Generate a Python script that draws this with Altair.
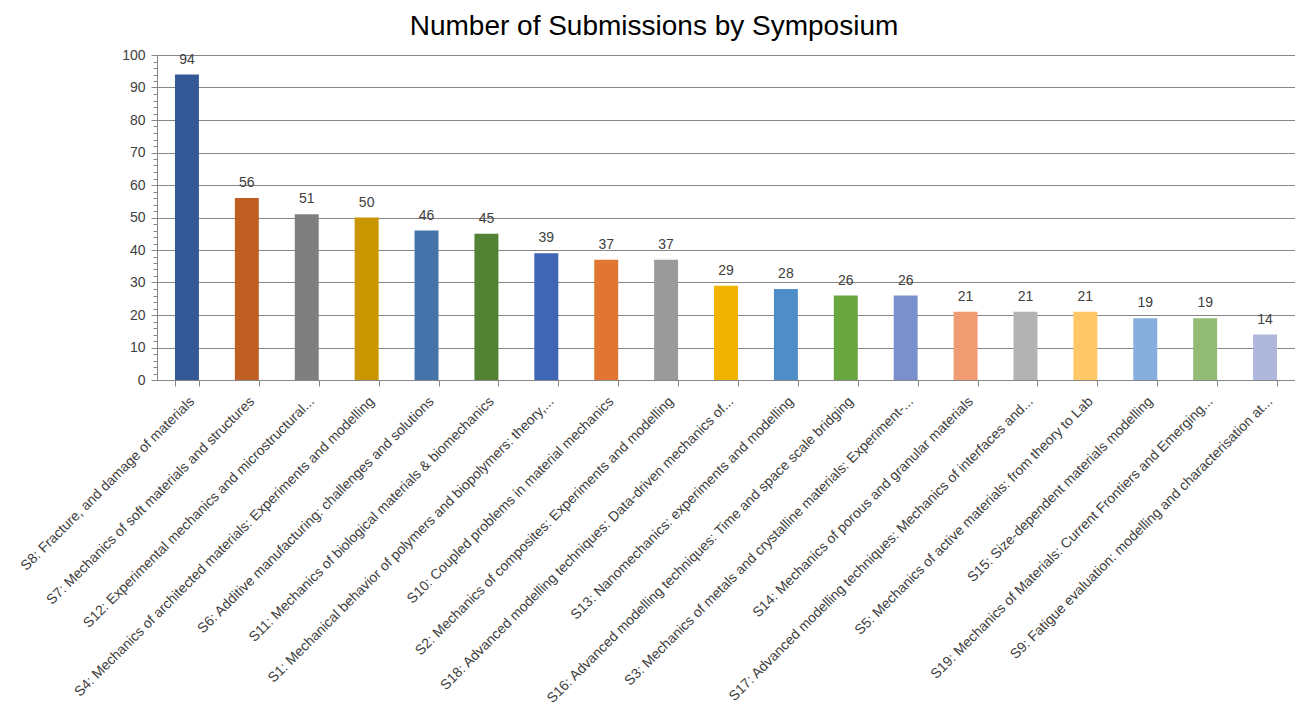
import altair as alt
import pandas as pd

symposia = [
    "S8: Fracture, and damage of materials",
    "S7: Mechanics of soft materials and structures",
    "S12: Experimental mechanics and microstructural...",
    "S4: Mechanics of architected materials: Experiments and modelling",
    "S6: Additive manufacturing: challenges and solutions",
    "S11: Mechanics of biological materials & biomechanics",
    "S1: Mechanical behavior of polymers and biopolymers: theory,...",
    "S10: Coupled problems in material mechanics",
    "S2: Mechanics of composites: Experiments and modelling",
    "S18: Advanced modelling techniques: Data-driven mechanics of...",
    "S13: Nanomechanics: experiments and modelling",
    "S16: Advanced modelling techniques: Time and space scale bridging",
    "S3: Mechanics of metals and crystalline materials: Experiment-...",
    "S14: Mechanics of porous and granular materials",
    "S17: Advanced modelling techniques: Mechanics of interfaces and...",
    "S5: Mechanics of active materials: from theory to Lab",
    "S15: Size-dependent materials modelling",
    "S19: Mechanics of Materials: Current Frontiers and Emerging...",
    "S9: Fatigue evaluation: modelling and characterisation at...",
]
submissions = [94, 56, 51, 50, 46, 45, 39, 37, 37, 29, 28, 26, 26, 21, 21, 21, 19, 19, 14]
bar_colors = [
    "#335A96", "#BE5E22", "#7F7F7F", "#C99500", "#4574AA", "#548235",
    "#3F65B5", "#E07632", "#9A9A9A", "#F0B400", "#4E8DC8", "#6AA640",
    "#7A90CC", "#F09B72", "#B3B3B3", "#FFC867", "#87AEDD", "#92BB78",
    "#B0B7DD",
]
y_ticks = list(range(0, 101, 2))

df = pd.DataFrame({"symposium": symposia, "count": submissions})

major = "datum.value % 10 == 0"

base = alt.Chart(df).encode(
    x=alt.X("symposium:N", sort=symposia, title=None,
            scale=alt.Scale(paddingInner=0.6, paddingOuter=0.3),
            axis=alt.Axis(labelAngle=-45, labelLimit=0, labelFont="Liberation Sans",
                          labelFontSize=14, labelColor="#404040", labelPadding=8,
                          labelOverlap=False,
                          tickBand="extent", tickSize=6, tickColor="#868686",
                          domainColor="#868686", grid=False)),
    y=alt.Y("count:Q", title=None,
            scale=alt.Scale(domain=[0, 100], nice=False, zero=True),
            axis=alt.Axis(values=y_ticks, labelOverlap=False, labelFlush=False,
                          labelExpr=f"{major} ? datum.label : ''",
                          labelFont="Liberation Sans", labelFontSize=14,
                          labelColor="#404040", labelPadding=6,
                          tickColor="#868686", domainColor="#868686",
                          tickSize={"condition": {"test": major, "value": 6}, "value": 4},
                          gridColor="#868686",
                          gridOpacity={"condition": {"test": major, "value": 1}, "value": 0})),
)

bars = base.mark_bar().encode(
    color=alt.Color("symposium:N", scale=alt.Scale(domain=symposia, range=bar_colors), legend=None),
)

labels = base.mark_text(baseline="bottom", dy=-8, font="Liberation Sans",
                        fontSize=14, color="#404040").encode(text="count:Q")

chart = (bars + labels).properties(
    width=1138,
    height=325,
    autosize=alt.AutoSizeParams(type="none"),
    padding={"left": 149, "top": 47, "right": 0, "bottom": 330},
    title=alt.TitleParams("Number of Submissions by Symposium", font="Liberation Sans",
                          fontSize=28, fontWeight="normal", color="#000000",
                          anchor="middle", dx=-72, offset=7),
).configure_view(stroke=None)

chart.save("out.html", embed_options={"renderer": "svg", "actions": False})
